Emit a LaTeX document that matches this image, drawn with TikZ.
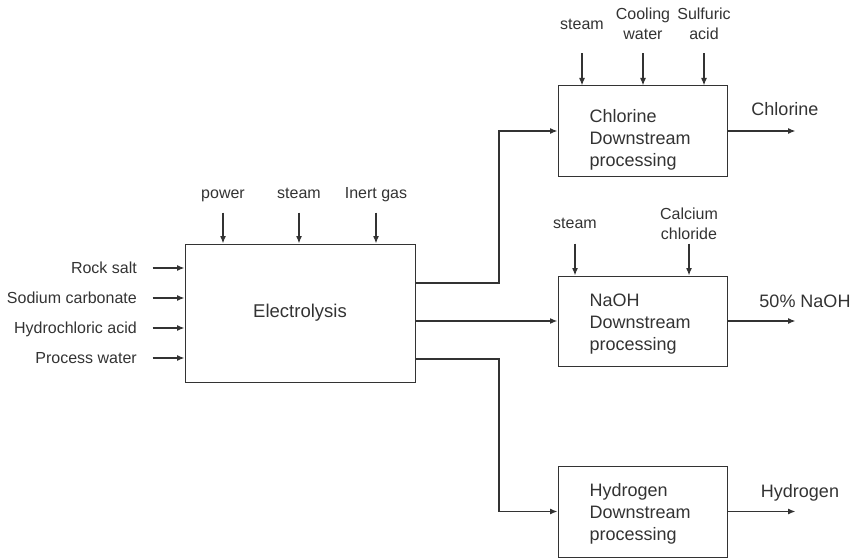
\documentclass[tikz,border=0pt]{standalone}
\usepackage{fontspec}
\setmainfont{Liberation Sans}
\usepackage{xcolor}
\usetikzlibrary{arrows.meta}
\definecolor{ink}{HTML}{333333}

\begin{document}
\begin{tikzpicture}[x=1pt,y=-1pt,
  box/.style={draw=ink, line width=1pt, minimum width=169pt, minimum height=90pt, inner sep=0pt},
  flow/.style={draw=ink, line width=1.3pt, -{Latex[length=7.5pt,width=6pt]}},
  lbl/.style={text=ink, font=\fontsize{16}{20}\selectfont, inner sep=0pt, align=center},
  txt/.style={text=ink, font=\fontsize{18}{22}\selectfont, inner sep=0pt, align=left, anchor=west}]
  \useasboundingbox (0,0) rectangle (854,559);
  \def\xin{32}

  % electrolysis block and its feeds
  \node[box, minimum width=230pt, minimum height=138pt, text=ink, font=\fontsize{18.5}{22}\selectfont] (el) at (300,313) {Electrolysis};
  \foreach \y/\n/\t in {268/rs/Rock salt, 298/sc/Sodium carbonate, 328/ha/Hydrochloric acid, 358/pw/Process water}{
    \node[lbl, anchor=base east] (\n) at (137,\y+5) {\t};
    \draw[flow] (el.west |- 0,\y) ++(-32,0) -- (el.west |- 0,\y);
  }
  \node[lbl, anchor=base] (pow) at (223,198) {power};
  \node[lbl, anchor=base] (stm) at (299,198) {steam};
  \node[lbl, anchor=base] (ing) at (376,198) {Inert gas};
  \foreach \n in {pow,stm,ing}
    \draw[flow] (\n |- el.north) ++(0,-31) -- (\n |- el.north);

  % downstream blocks
  \node[box] (cl) at (642.5,131) {};
  \node[box] (na) at (642.5,321) {};
  \node[box, minimum height=91pt] (hy) at (642.5,511.5) {};
  \node[txt] (cl-t) at ([xshift=\xin pt]cl.west |- 0,140.3) {Chlorine\\Downstream\\processing};
  \node[txt] (na-t) at ([xshift=\xin pt]na.west |- 0,324.5) {NaOH\\Downstream\\processing};
  \node[txt] (hy-t) at ([xshift=\xin pt]hy.west |- 0,513.5) {Hydrogen\\Downstream\\processing};

  \node[lbl, anchor=base] (cl-s) at (582,30) {steam};
  \node[lbl, anchor=south] (cl-w) at (643,40) {Cooling\\water};
  \node[lbl, anchor=south] (cl-a) at (704,40) {Sulfuric\\acid};
  \foreach \n in {cl-s,cl-w,cl-a}
    \draw[flow] (\n |- cl.north) ++(0,-32) -- (\n |- cl.north);
  \node[lbl, anchor=base] (na-s) at (575,228) {steam};
  \node[lbl, anchor=south] (na-c) at (689,240) {Calcium\\chloride};
  \foreach \n in {na-s,na-c}
    \draw[flow] (\n |- na.north) ++(0,-32) -- (\n |- na.north);

  % links from the cell
  \coordinate (split) at (499,0);
  \draw[flow] (el.east |- 0,283) -| (split |- cl.west) -- (cl.west);
  \draw[flow, line width=2pt] (el.east |- na.west) -- (na.west);
  \draw[flow] (el.east |- 0,359) -| (split |- hy.west) -- (hy.west);

  % products
  \draw[flow] (cl.east) -- ++(68,0) coordinate (cl-o);
  \draw[flow] (na.east) -- ++(68,0) coordinate (na-o);
  \draw[flow] (hy.east) -- ++(68,0) coordinate (hy-o);
  \node[lbl, anchor=base, font=\fontsize{18}{20}\selectfont] (cl-p) at (785,116) {Chlorine};
  \node[lbl, anchor=base, font=\fontsize{18}{20}\selectfont] (na-p) at (805,307) {50\% NaOH};
  \node[lbl, anchor=base, font=\fontsize{18}{20}\selectfont] (hy-p) at (800,497) {Hydrogen};

\end{tikzpicture}
\end{document}
